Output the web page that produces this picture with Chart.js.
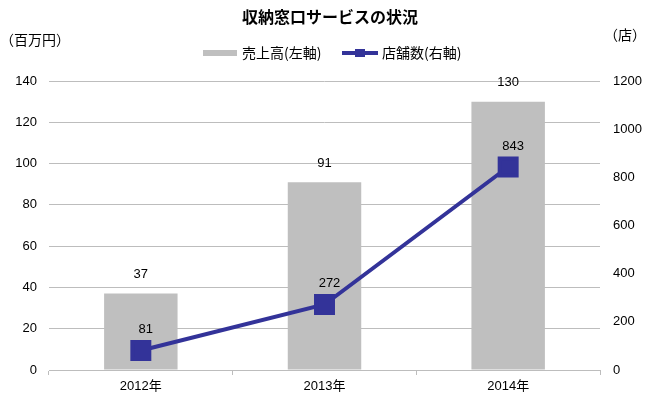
<!DOCTYPE html>
<html>
<head>
<meta charset="utf-8">
<script src="https://cdn.jsdelivr.net/npm/chart.js@4/dist/chart.umd.min.js"></script>
<style>
  html, body { margin: 0; padding: 0; background: #fff; }
  #wrap { width: 654px; height: 399px; position: relative; }
</style>
</head>
<body>
<div id="wrap"><canvas id="chart"></canvas></div>
<script>
const years = ['2012年', '2013年', '2014年'];
const sales = [37, 91, 130];      // 売上高 (百万円)
const stores = [81, 272, 843];    // 店舗数 (店)
const leftTicks = [0, 20, 40, 60, 80, 100, 120, 140];
const rightTicks = [0, 200, 400, 600, 800, 1000, 1200];

const FONT = '"Liberation Sans", Arial, "Noto Sans CJK JP", sans-serif';
const JP_FONT = '"Noto Sans CJK JP", "Liberation Sans", sans-serif';
const BAR_COLOR = '#bfbfbf';
const LINE_COLOR = '#333399';

// Title, unit captions, legend and value labels
const decorations = {
    id: 'decorations',
    afterDatasetsDraw(chart) {
        const ctx = chart.ctx;
        ctx.save();

        // Title
        ctx.fillStyle = '#000';
        ctx.font = 'bold 16px ' + JP_FONT;
        ctx.textAlign = 'center';
        ctx.textBaseline = 'middle';
        ctx.fillText('収納窓口サービスの状況', 330, 17);

        // Units
        ctx.font = '14px ' + JP_FONT;
        ctx.textAlign = 'left';
        ctx.fillText('（百万円）', 0, 40);
        ctx.fillText('（店）', 604, 35);

        // Legend
        ctx.fillStyle = BAR_COLOR;
        ctx.fillRect(203, 50, 34, 6);
        ctx.fillStyle = '#000';
        ctx.fillText('売上高(左軸)', 242, 53);
        ctx.strokeStyle = LINE_COLOR;
        ctx.lineWidth = 4;
        ctx.beginPath();
        ctx.moveTo(342, 53);
        ctx.lineTo(378, 53);
        ctx.stroke();
        ctx.fillStyle = LINE_COLOR;
        ctx.fillRect(355, 49, 10, 8);
        ctx.fillStyle = '#000';
        ctx.fillText('店舗数(右軸)', 382, 53);

        // Value labels
        ctx.font = '13px ' + FONT;
        ctx.textAlign = 'center';
        chart.data.datasets.forEach((ds, i) => {
            const meta = chart.getDatasetMeta(i);
            meta.data.forEach((el, j) => {
                const isLine = ds.type === 'line';
                const dx = isLine ? 5 : 0;
                const gap = isLine ? 21 : 19;
                ctx.fillText(String(ds.data[j]), el.x + dx, el.y - gap);
            });
        });
        ctx.restore();
    }
};

new Chart(document.getElementById('chart'), {
    data: {
        labels: years,
        datasets: [
            {
                type: 'line',
                label: '店舗数(右軸)',
                data: stores,
                yAxisID: 'yRight',
                borderColor: LINE_COLOR,
                backgroundColor: LINE_COLOR,
                borderWidth: 4,
                pointStyle: 'rect',
                pointRadius: 12,
                pointHoverRadius: 12,
                tension: 0,
                order: 0
            },
            {
                type: 'bar',
                label: '売上高(左軸)',
                data: sales,
                yAxisID: 'yLeft',
                backgroundColor: BAR_COLOR,
                categoryPercentage: 0.4,
                barPercentage: 1,
                order: 1
            }
        ]
    },
    options: {
        responsive: true,
        maintainAspectRatio: false,
        animation: false,
        layout: { padding: { top: 81, left: 0, right: 0, bottom: 0 } },
        plugins: {
            legend: { display: false },
            title: { display: false },
            tooltip: { enabled: false }
        },
        scales: {
            x: {
                offset: true,
                grid: {
                    offset: true,
                    drawOnChartArea: false,
                    color: '#bdbdbd',
                    tickLength: 5
                },
                border: { color: '#bdbdbd' },
                ticks: { color: '#000', font: { family: FONT, size: 13 }, padding: 4 },
                afterFit(scale) { scale.height = 29; }
            },
            yLeft: {
                position: 'left',
                min: 0,
                max: 140,
                afterBuildTicks(scale) { scale.ticks = leftTicks.map(v => ({ value: v })); },
                grid: { color: '#bdbdbd', drawTicks: false },
                border: { display: false },
                ticks: { color: '#000', font: { family: FONT, size: 13 }, padding: 12 },
                afterFit(scale) { scale.width = 49; }
            },
            yRight: {
                position: 'right',
                min: 0,
                max: 1200,
                afterBuildTicks(scale) { scale.ticks = rightTicks.map(v => ({ value: v })); },
                grid: { drawOnChartArea: false, drawTicks: false },
                border: { display: false },
                ticks: {
                    color: '#000',
                    font: { family: FONT, size: 13 },
                    padding: 13,
                    callback: v => String(v)
                },
                afterFit(scale) { scale.width = 54; }
            }
        }
    },
    plugins: [decorations]
});
</script>
</body>
</html>
